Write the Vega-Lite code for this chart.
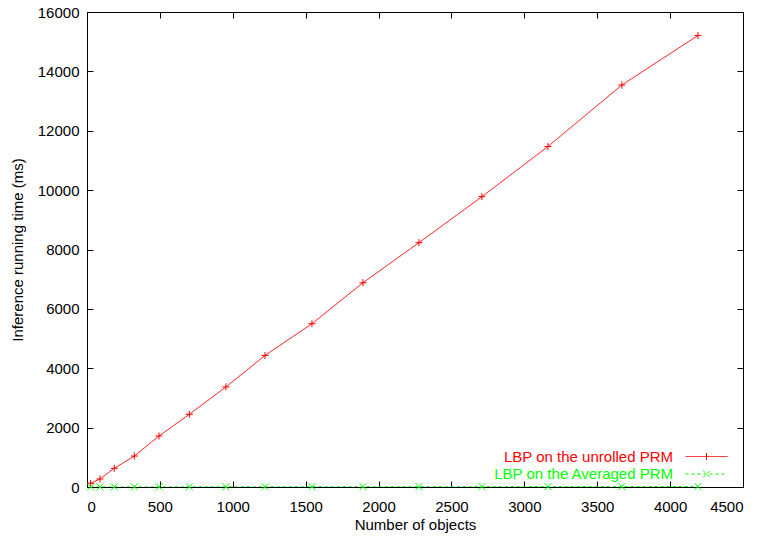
{
  "$schema": "https://vega.github.io/schema/vega-lite/v6.json",
  "autosize": {"type": "none"},
  "width": 656,
  "height": 475,
  "padding": {"left": 87, "top": 12, "right": 20, "bottom": 50},
  "background": "white",
  "config": {
    "font": "Liberation Sans",
    "view": {"stroke": "black", "strokeWidth": 1},
    "axis": {
      "grid": false,
      "domain": false,
      "tickColor": "black",
      "tickSize": -6,
      "labelFontSize": 15,
      "labelColor": "black",
      "titleFontSize": 15,
      "titleFontWeight": "normal",
      "titleColor": "black",
      "format": "d"
    },
    "legend": {
      "title": null,
      "orient": "none",
      "legendX": 612,
      "legendY": 437,
      "labelFontSize": 15,
      "symbolSize": 49,
      "rowPadding": 1.5,
      "labelLimit": 400,
      "symbolStrokeWidth": 1
    }
  },
  "data": {
    "values": [
      {"n": 25, "t": 125, "s": "LBP on the unrolled PRM", "m": "plus"},
      {"n": 89, "t": 270, "s": "LBP on the unrolled PRM", "m": "plus"},
      {"n": 187, "t": 630, "s": "LBP on the unrolled PRM", "m": "plus"},
      {"n": 325, "t": 1044, "s": "LBP on the unrolled PRM", "m": "plus"},
      {"n": 494, "t": 1718, "s": "LBP on the unrolled PRM", "m": "plus"},
      {"n": 702, "t": 2449, "s": "LBP on the unrolled PRM", "m": "plus"},
      {"n": 953, "t": 3370, "s": "LBP on the unrolled PRM", "m": "plus"},
      {"n": 1221, "t": 4430, "s": "LBP on the unrolled PRM", "m": "plus"},
      {"n": 1543, "t": 5500, "s": "LBP on the unrolled PRM", "m": "plus"},
      {"n": 1893, "t": 6880, "s": "LBP on the unrolled PRM", "m": "plus"},
      {"n": 2277, "t": 8230, "s": "LBP on the unrolled PRM", "m": "plus"},
      {"n": 2709, "t": 9780, "s": "LBP on the unrolled PRM", "m": "plus"},
      {"n": 3162, "t": 11470, "s": "LBP on the unrolled PRM", "m": "plus"},
      {"n": 3669, "t": 13540, "s": "LBP on the unrolled PRM", "m": "plus"},
      {"n": 4191, "t": 15210, "s": "LBP on the unrolled PRM", "m": "plus"},
      {"n": 25, "t": 2, "s": "LBP on the Averaged PRM", "m": "x"},
      {"n": 89, "t": 3, "s": "LBP on the Averaged PRM", "m": "x"},
      {"n": 187, "t": 4, "s": "LBP on the Averaged PRM", "m": "x"},
      {"n": 325, "t": 5, "s": "LBP on the Averaged PRM", "m": "x"},
      {"n": 494, "t": 6, "s": "LBP on the Averaged PRM", "m": "x"},
      {"n": 702, "t": 7, "s": "LBP on the Averaged PRM", "m": "x"},
      {"n": 953, "t": 8, "s": "LBP on the Averaged PRM", "m": "x"},
      {"n": 1221, "t": 9, "s": "LBP on the Averaged PRM", "m": "x"},
      {"n": 1543, "t": 10, "s": "LBP on the Averaged PRM", "m": "x"},
      {"n": 1893, "t": 11, "s": "LBP on the Averaged PRM", "m": "x"},
      {"n": 2277, "t": 12, "s": "LBP on the Averaged PRM", "m": "x"},
      {"n": 2709, "t": 13, "s": "LBP on the Averaged PRM", "m": "x"},
      {"n": 3162, "t": 14, "s": "LBP on the Averaged PRM", "m": "x"},
      {"n": 3669, "t": 15, "s": "LBP on the Averaged PRM", "m": "x"},
      {"n": 4191, "t": 16, "s": "LBP on the Averaged PRM", "m": "x"}
    ]
  },
  "layer": [
    {
      "mark": {"type": "line", "strokeWidth": 1, "clip": true},
      "encoding": {
        "x": {"field": "n", "type": "quantitative", "scale": {"domain": [0, 4500], "nice": false}, "axis": {"orient": "bottom", "title": "Number of objects", "values": [0,500,1000,1500,2000,2500,3000,3500,4000,4500], "labelPadding": 18, "titlePadding": 3}},
        "y": {"field": "t", "type": "quantitative", "scale": {"domain": [0, 16000], "nice": false}, "axis": {"orient": "left", "title": "Inference running time (ms)", "values": [0,2000,4000,6000,8000,10000,12000,14000,16000], "labelPadding": 14, "titlePadding": 12}},
        "color": {"field": "s", "type": "nominal", "scale": {"domain": ["LBP on the unrolled PRM", "LBP on the Averaged PRM"], "range": ["#ff0000", "#00ff00"]}, "legend": {
          "encode": {
            "labels": {"update": {"align": {"value": "right"}, "x": {"value": -26}, "fill": {"signal": "datum.value == 'LBP on the unrolled PRM' ? '#ff0000' : '#00ff00'"}}},
            "symbols": {"update": {
              "shape": {"signal": "datum.value == 'LBP on the unrolled PRM' ? 'M-6,0L6,0M0,-1L0,1' : 'M-6,0L6,0M-1,-1L1,1M-1,1L1,-1'"},
              "fill": {"value": "transparent"}
            }}
          }
        }},
        "strokeDash": {"field": "s", "type": "nominal", "scale": {"domain": ["LBP on the unrolled PRM", "LBP on the Averaged PRM"], "range": [[1, 0], [3, 3]]}, "legend": null}
      }
    },
    {
      "mark": {"type": "point", "filled": false, "strokeWidth": 1, "size": 49, "opacity": 1},
      "encoding": {
        "x": {"field": "n", "type": "quantitative", "axis": {"orient": "top", "title": null, "labels": false, "values": [0,500,1000,1500,2000,2500,3000,3500,4000,4500]}},
        "y": {"field": "t", "type": "quantitative", "axis": {"orient": "right", "title": null, "labels": false, "values": [0,2000,4000,6000,8000,10000,12000,14000,16000]}},
        "color": {"field": "s", "type": "nominal", "legend": {
          "encode": {
            "labels": {"update": {"align": {"value": "right"}, "x": {"value": -26}, "fill": {"signal": "datum.value == 'LBP on the unrolled PRM' ? '#ff0000' : '#00ff00'"}}},
            "symbols": {"update": {
              "shape": {"signal": "datum.value == 'LBP on the unrolled PRM' ? 'M-6,0L6,0M0,-1L0,1' : 'M-6,0L6,0M-1,-1L1,1M-1,1L1,-1'"},
              "fill": {"value": "transparent"}
            }}
          }
        }},
        "shape": {"field": "m", "type": "nominal", "scale": {"domain": ["plus", "x"], "range": ["M-1,0L1,0M0,-1L0,1", "M-1,-1L1,1M-1,1L1,-1"]}, "legend": null}
      }
    }
  ]
}
